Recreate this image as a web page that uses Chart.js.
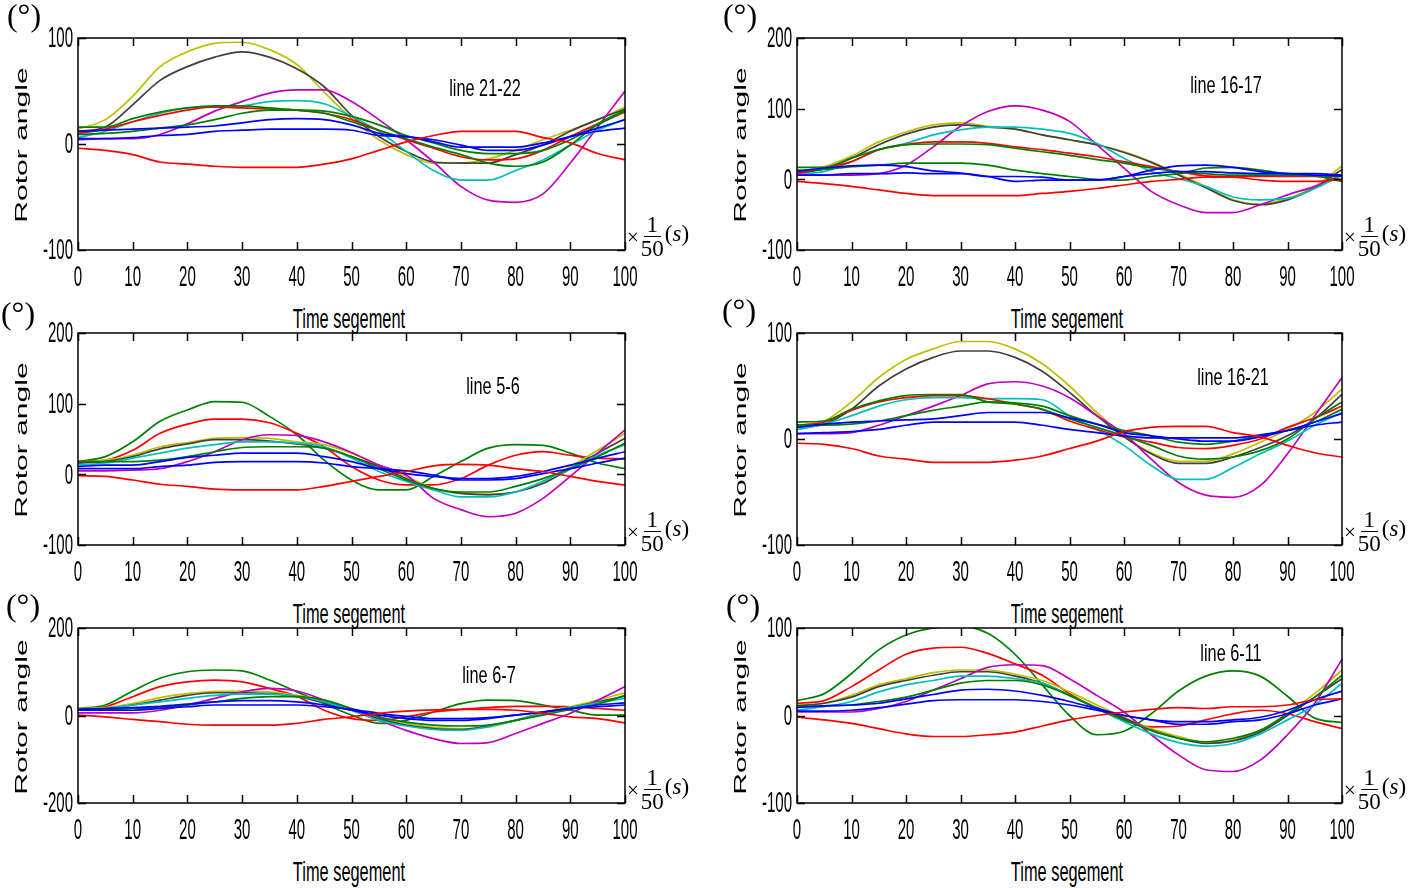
<!DOCTYPE html>
<html><head><meta charset="utf-8">
<script src="https://cdn.jsdelivr.net/npm/chart.js@4.4.1/dist/chart.umd.min.js"></script>
<style>
html,body{margin:0;padding:0;background:#fff;}
body{width:1418px;height:888px;position:relative;overflow:hidden;font-family:"Liberation Sans",Arial,sans-serif;}
canvas{position:absolute;}
.t{position:absolute;white-space:nowrap;color:#000;line-height:1;}
.deg{font-family:"Liberation Serif","Times New Roman",serif;font-size:32px;transform:translate(-50%,-50%);}
.ylab{font-size:16.5px;transform:translate(-50%,-50%) rotate(-90deg) scaleX(1.82);}
.xlab{font-size:28px;transform:translate(-50%,-50%) scaleX(0.585);}
.ttl{font-size:24px;transform:translate(-50%,-50%) scaleX(0.68);}
.unit{position:absolute;font-family:"Liberation Serif","Times New Roman",serif;font-size:23px;display:flex;align-items:center;color:#000;white-space:nowrap;line-height:0.85;}
.times{font-size:21px;line-height:1;position:relative;top:1px;}
.frac{display:inline-flex;flex-direction:column;align-items:center;margin:0 1px 0 2px;}
.num{border-bottom:1.3px solid #000;padding:0 3px 1px 3px;}
.den{padding-top:2px;}
.par{position:relative;top:-3px;}
</style>
</head><body>
<script>
// ---------- DATA ----------
const xValues = [0,5,10,15,20,25,30,35,40,45,50,55,60,65,70,75,80,85,90,95,100];
const xTicks = [0,10,20,30,40,50,60,70,80,90,100];

// Panel 1: line 21-22
const p1Yellow = [14,23,45,73,87,95,96,89,75,49,24,4,-10,-18,-18,-14,-6,4,13,23,35];
const p1Gray = [12,16,37,60,73,82,87,82,71,54,27,7,-7,-17,-18,-18,-10,-1,12,23,33];
const p1Magenta = [4,5,5,9,19,31,40,48,51,51,40,23,4,-17,-40,-53,-55,-47,-18,16,50];
const p1Cyan = [6,12,21,29,34,35,36,40,41,38,26,12,-7,-25,-34,-34,-25,-15,-1,13,23];
const p1RedA = [10,14,21,27,32,35,34,33,32,29,23,13,4,-4,-12,-15,-14,-6,7,19,30];
const p1GreenA = [16,16,24,30,34,36,36,34,32,29,21,13,5,-3,-10,-18,-21,-17,-1,19,32];
const p1GreenB = [9,10,12,15,18,23,29,32,32,31,26,18,8,1,-6,-9,-9,-6,4,18,31];
const p1BlueA = [12,13,14,15,16,17,20,23,24,23,18,10,7,4,-1,-6,-6,-1,7,15,23];
const p1BlueB = [5,5,6,8,9,12,13,14,14,14,13,8,7,2,-3,-3,-3,1,7,12,15];
const p1RedB = [-4,-6,-10,-17,-19,-21,-22,-22,-22,-19,-14,-6,2,8,12,12,12,6,1,-9,-15];
const p1YTicks = [-100,0,100];

// Panel 2: line 16-17
const p2Yellow = [11,18,33,53,67,77,80,75,71,63,56,49,39,25,8,-10,-29,-35,-27,-10,19];
const p2Gray = [8,15,30,49,64,74,77,74,71,63,56,49,38,24,6,-12,-30,-36,-29,-12,14];
const p2Magenta = [6,6,6,8,20,46,75,96,104,98,82,49,16,-17,-36,-47,-47,-36,-22,-10,6];
const p2Cyan = [8,11,25,42,51,63,70,74,74,71,65,51,30,11,1,-10,-25,-29,-27,-13,6];
const p2RedA = [8,16,25,42,49,53,53,51,46,42,37,32,25,18,11,5,4,4,4,4,-1];
const p2GreenA = [17,17,30,42,49,50,50,49,44,39,34,28,23,16,11,8,6,6,6,5,-3];
const p2GreenB = [13,14,18,20,23,23,23,20,13,8,4,0,-1,4,8,16,17,13,8,5,4];
const p2BlueA = [11,16,19,20,18,12,9,4,-3,-1,-1,-1,4,13,19,20,17,11,8,6,5];
const p2BlueB = [6,6,8,8,9,8,8,4,4,3,-1,-1,4,8,11,11,9,8,8,8,6];
const p2RedB = [-3,-6,-10,-15,-20,-23,-23,-23,-23,-20,-17,-13,-8,-3,0,3,3,-1,-3,-3,0];
const p2YTicks = [-100,0,100,200];

// Panel 3: line 5-6
const p3GreenA = [18,25,46,75,91,103,102,82,56,20,-8,-22,-22,-3,18,37,42,41,30,16,8];
const p3RedA = [18,20,34,58,71,78,78,73,58,39,11,-8,-15,-15,-6,13,27,32,27,23,22];
const p3Yellow = [17,20,27,39,45,51,52,51,46,42,30,13,-3,-20,-27,-28,-25,-10,11,34,58];
const p3Gray = [16,18,25,36,43,49,49,47,43,37,25,11,-6,-20,-27,-29,-25,-13,8,30,51];
const p3Magenta = [5,5,6,8,18,32,49,56,55,46,31,13,-1,-34,-50,-60,-55,-34,-3,30,63];
const p3Cyan = [13,16,23,30,37,42,46,46,44,39,23,4,-10,-22,-32,-32,-25,-10,8,27,42];
const p3GreenB = [18,18,18,20,25,32,38,39,39,37,25,8,-8,-20,-25,-25,-17,-6,8,25,44];
const p3BlueA = [11,13,13,18,24,27,30,30,30,25,18,8,1,-3,-6,-6,-3,4,13,23,32];
const p3BlueB = [8,8,8,11,13,17,18,18,18,16,11,8,5,-1,-8,-8,-6,1,8,16,23];
const p3RedB = [-2,-3,-8,-14,-17,-21,-22,-22,-22,-17,-10,-3,4,12,14,13,8,4,-3,-10,-15];
const p3YTicks = [-100,0,100,200];

// Panel 4: line 16-21
const p4Yellow = [13,17,35,58,75,85,92,92,85,71,50,25,3,-13,-21,-21,-14,-3,9,25,47];
const p4Gray = [11,14,28,50,66,77,83,83,77,64,44,22,2,-14,-23,-23,-17,-8,3,19,42];
const p4Magenta = [5,5,6,13,22,31,41,52,54,50,39,22,5,-19,-41,-53,-55,-44,-14,22,58];
const p4Cyan = [9,14,22,31,37,39,39,38,38,37,22,9,-6,-25,-38,-38,-27,-14,-2,13,25];
const p4RedA = [13,16,27,35,39,41,41,38,33,28,17,9,2,-3,-8,-9,-6,0,11,20,31];
const p4GreenA = [16,17,28,36,41,42,42,35,33,28,19,11,3,-6,-16,-19,-17,-11,0,19,35];
const p4GreenB = [13,13,14,17,22,27,31,35,34,31,22,14,8,3,-3,-5,-2,3,8,16,28];
const p4BlueA = [11,14,16,17,18,19,22,25,25,25,20,14,6,3,0,-2,-2,2,8,16,24];
const p4BlueB = [5,6,7,9,13,16,16,16,16,13,9,6,3,1,1,1,1,4,8,13,16];
const p4RedB = [-4,-5,-9,-16,-19,-22,-22,-22,-20,-16,-9,-2,7,11,12,12,6,2,-6,-13,-17];
const p4YTicks = [-100,0,100];

// Panel 5: line 6-7
const p5GreenA = [16,24,56,85,100,104,102,81,54,27,1,-18,-11,8,27,35,34,24,12,1,1];
const p5RedA = [14,20,43,66,77,81,77,62,44,12,-7,-11,-3,8,14,18,21,21,20,16,12];
const p5Yellow = [16,18,27,41,50,55,56,54,46,35,16,-3,-18,-27,-30,-26,-11,8,20,35,52];
const p5Gray = [14,16,24,35,46,52,52,50,43,29,12,-7,-22,-30,-32,-24,-11,5,18,31,44];
const p5Magenta = [6,6,6,12,24,39,54,62,56,35,12,-11,-34,-53,-64,-62,-41,-18,5,35,66];
const p5Cyan = [12,16,24,31,39,46,49,49,44,31,12,-11,-24,-32,-34,-26,-11,5,18,29,39];
const p5GreenB = [14,14,16,18,24,31,39,43,43,35,16,-3,-15,-22,-24,-22,-11,1,14,26,46];
const p5BlueA = [14,16,18,21,26,31,34,34,31,24,12,1,-7,-11,-11,-7,1,8,16,24,29];
const p5BlueB = [12,12,12,16,20,24,24,24,24,20,14,5,-2,-7,-7,-5,1,8,16,20,24];
const p5RedB = [1,-3,-9,-14,-20,-22,-22,-22,-18,-9,-3,5,10,13,14,14,12,5,-3,-7,-17];
const p5YTicks = [-200,0,200];

// Panel 6: line 6-11
const p6GreenA = [17,25,48,75,92,100,102,94,70,35,0,-22,-18,2,28,45,51,45,22,-3,-8];
const p6RedA = [14,17,33,52,70,77,78,71,59,46,25,8,-5,-13,-12,-5,2,6,2,-7,-15];
const p6Yellow = [12,14,23,35,42,49,52,52,47,40,27,12,-2,-15,-24,-31,-28,-17,2,25,52];
const p6Gray = [11,14,21,33,40,46,50,50,45,37,23,9,-3,-17,-26,-32,-29,-19,0,21,42];
const p6Magenta = [4,4,4,8,16,29,42,55,58,57,42,23,4,-22,-45,-62,-64,-51,-22,14,64];
const p6Cyan = [6,10,16,27,35,40,45,45,42,37,23,8,-7,-21,-31,-35,-32,-21,-5,12,37];
const p6GreenB = [10,11,12,16,21,29,37,40,40,35,23,8,-5,-17,-26,-30,-26,-17,2,21,46];
const p6BlueA = [9,11,12,14,19,24,29,30,28,23,16,8,0,-5,-7,-7,-5,-2,6,18,28];
const p6BlueB = [5,5,6,9,13,17,18,18,18,16,12,6,0,-5,-10,-10,-7,-5,2,12,19];
const p6RedB = [-2,-5,-9,-15,-21,-24,-24,-22,-19,-12,-5,0,4,7,9,8,10,10,12,18,19];
const p6YTicks = [-100,0,100];

const panelTitles = ["line 21-22","line 16-17","line 5-6","line 16-21","line 6-7","line 6-11"];
const yAxisTitle = "Rotor angle";
const xAxisTitle = "Time segement";
const unitText = "(°)";

// ---------- COLORS ----------
const C = {blue:"#0000ff", green:"#008000", red:"#ff0000", cyan:"#00bfbf", magenta:"#bf00bf", yellow:"#bfbf00", gray:"#404040"};

function S(values,color){return {values,color};}

const panels = [
 {L:78,T:38,R:625,B:250,yMin:-100,yMax:100,yTicks:p1YTicks,tx:485,ty:88,degX:24,degY:15,
  series:[S(p1RedB,C.red),S(p1BlueB,C.blue),S(p1BlueA,C.blue),S(p1GreenB,C.green),S(p1GreenA,C.green),S(p1RedA,C.red),S(p1Cyan,C.cyan),S(p1Magenta,C.magenta),S(p1Gray,C.gray),S(p1Yellow,C.yellow)]},
 {L:797,T:38,R:1342,B:250,yMin:-100,yMax:200,yTicks:p2YTicks,tx:1226,ty:85,degX:740,degY:15,
  series:[S(p2RedB,C.red),S(p2BlueB,C.blue),S(p2BlueA,C.blue),S(p2GreenB,C.green),S(p2GreenA,C.green),S(p2RedA,C.red),S(p2Cyan,C.cyan),S(p2Magenta,C.magenta),S(p2Gray,C.gray),S(p2Yellow,C.yellow)]},
 {L:78,T:333,R:625,B:545,yMin:-100,yMax:200,yTicks:p3YTicks,tx:493,ty:386,degX:18,degY:313,
  series:[S(p3RedB,C.red),S(p3BlueB,C.blue),S(p3BlueA,C.blue),S(p3GreenB,C.green),S(p3Cyan,C.cyan),S(p3Magenta,C.magenta),S(p3Gray,C.gray),S(p3Yellow,C.yellow),S(p3RedA,C.red),S(p3GreenA,C.green)]},
 {L:797,T:333,R:1342,B:545,yMin:-100,yMax:100,yTicks:p4YTicks,tx:1233,ty:377,degX:739,degY:310,
  series:[S(p4RedB,C.red),S(p4BlueB,C.blue),S(p4BlueA,C.blue),S(p4GreenB,C.green),S(p4GreenA,C.green),S(p4RedA,C.red),S(p4Cyan,C.cyan),S(p4Magenta,C.magenta),S(p4Gray,C.gray),S(p4Yellow,C.yellow)]},
 {L:78,T:628,R:625,B:803,yMin:-200,yMax:200,yTicks:p5YTicks,tx:489,ty:675,degX:23,degY:605,
  series:[S(p5RedB,C.red),S(p5BlueB,C.blue),S(p5BlueA,C.blue),S(p5GreenB,C.green),S(p5Cyan,C.cyan),S(p5Magenta,C.magenta),S(p5Gray,C.gray),S(p5Yellow,C.yellow),S(p5RedA,C.red),S(p5GreenA,C.green)]},
 {L:797,T:628,R:1342,B:803,yMin:-100,yMax:100,yTicks:p6YTicks,tx:1231,ty:653,degX:743,degY:605,
  series:[S(p6RedB,C.red),S(p6BlueB,C.blue),S(p6BlueA,C.blue),S(p6GreenB,C.green),S(p6Cyan,C.cyan),S(p6Magenta,C.magenta),S(p6Gray,C.gray),S(p6Yellow,C.yellow),S(p6RedA,C.red),S(p6GreenA,C.green)]}
];

// ---------- FRAME / TICKS PLUGIN ----------
const framePlugin = {
  id:'frame',
  afterDraw(chart, args, opts){
    const ctx = chart.ctx, a = chart.chartArea;
    const xs = chart.scales.x, ys = chart.scales.y;
    const yTicks = opts.yTicks;
    ctx.save();
    ctx.strokeStyle = '#000'; ctx.lineWidth = 1.5;
    ctx.strokeRect(a.left, a.top, a.right - a.left, a.bottom - a.top);
    const tl = 8;
    ctx.beginPath();
    xTicks.forEach(v => {
      const px = Math.round(xs.getPixelForValue(v)) + 0.5;
      ctx.moveTo(px, a.bottom); ctx.lineTo(px, a.bottom - tl);
      ctx.moveTo(px, a.top); ctx.lineTo(px, a.top + tl);
    });
    yTicks.forEach(v => {
      const py = Math.round(ys.getPixelForValue(v)) + 0.5;
      ctx.moveTo(a.left, py); ctx.lineTo(a.left + tl, py);
      ctx.moveTo(a.right, py); ctx.lineTo(a.right - tl, py);
    });
    ctx.stroke();
    // tick labels
    ctx.fillStyle = '#000';
    ctx.font = '30px "Liberation Sans", Arial, sans-serif';
    ctx.textBaseline = 'middle';
    xTicks.forEach(v => {
      const px = xs.getPixelForValue(v);
      ctx.save(); ctx.translate(px, a.bottom + 28); ctx.scale(0.5, 1);
      ctx.textAlign = 'center'; ctx.fillText(String(v), 0, 0); ctx.restore();
    });
    yTicks.forEach(v => {
      const py = ys.getPixelForValue(v);
      ctx.save(); ctx.translate(a.left - 5, py + 1); ctx.scale(0.5, 1);
      ctx.textAlign = 'right'; ctx.fillText(String(v), 0, 0); ctx.restore();
    });
    ctx.restore();
  }
};

const PADL = 75, PADT = 12, PADR = 12, PADB = 50;

function addText(cls, text, x, y){
  const d = document.createElement('div');
  d.className = 't ' + cls; d.textContent = text;
  d.style.left = x + 'px'; d.style.top = y + 'px';
  document.body.appendChild(d);
  return d;
}

panels.forEach((p, i) => {
  const cv = document.createElement('canvas');
  const w = p.R - p.L + PADL + PADR, h = p.B - p.T + PADT + PADB;
  cv.width = w; cv.height = h;
  cv.style.left = (p.L - PADL) + 'px'; cv.style.top = (p.T - PADT) + 'px';
  cv.style.width = w + 'px'; cv.style.height = h + 'px';
  document.body.appendChild(cv);
  new Chart(cv, {
    type: 'line',
    data: {
      datasets: p.series.map(s => ({
        data: xValues.map((x, k) => ({x: x, y: s.values[k]})),
        borderColor: s.color, borderWidth: 1.7, pointRadius: 0,
        cubicInterpolationMode: 'monotone', fill: false
      }))
    },
    options: {
      responsive: false, animation: false, devicePixelRatio: 1, events: [],
      layout: {padding: {left: PADL, top: PADT, right: PADR, bottom: PADB}},
      plugins: {legend: {display: false}, tooltip: {enabled: false}, frame: {yTicks: p.yTicks}},
      scales: {
        x: {type: 'linear', display: false, min: 0, max: 100},
        y: {type: 'linear', display: false, min: p.yMin, max: p.yMax}
      }
    },
    plugins: [framePlugin]
  });

  // texts
  addText('deg', unitText, p.degX, p.degY);
  const ylx = p.L < 400 ? 21 : 740;
  addText('ylab', yAxisTitle, ylx, (p.T + p.B) / 2 + 1);
  addText('xlab', xAxisTitle, (p.L + p.R) / 2 - 3, p.B + 69);
  addText('ttl', panelTitles[i], p.tx, p.ty);

  const u = document.createElement('div');
  u.className = 'unit';
  u.innerHTML = '<span class="times">×</span><span class="frac"><span class="num">1</span><span class="den">50</span></span><span class="par">(<i>s</i>)</span>';
  u.style.left = (p.R + 2) + 'px';
  u.style.top = (p.B - 35) + 'px';
  document.body.appendChild(u);
});
</script>
</body></html>
